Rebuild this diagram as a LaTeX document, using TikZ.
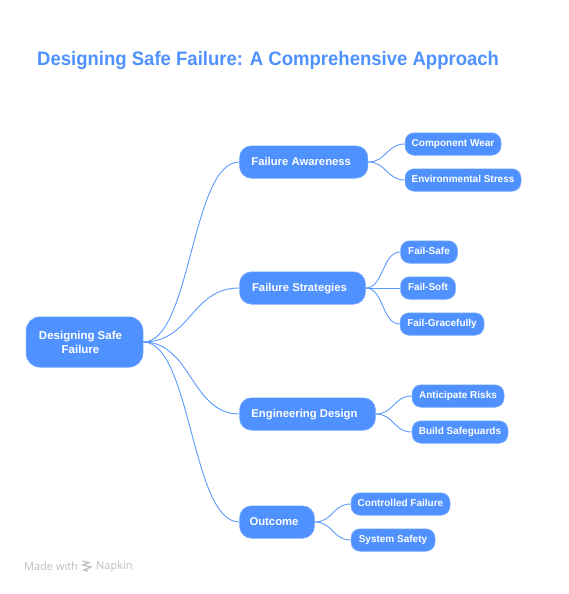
\documentclass[tikz,border=0pt]{standalone}
\usepackage{fontspec}
\setmainfont{Liberation Sans}
\newfontfamily\wmfont{Open Sans}
\newfontfamily\titlefont[FakeStretch=0.95]{Liberation Sans}
\usetikzlibrary{calc}
\definecolor{nodeblue}{HTML}{4F91FF}
\definecolor{edgeblue}{HTML}{5C9AFF}
\definecolor{wmgrey}{HTML}{BDBDBD}
\tikzset{
  box/.style={fill=nodeblue,draw=nodeblue!70!white,line width=0.5pt,text=white,inner sep=0pt,align=center},
  rootbox/.style={box,rounded corners=14pt,minimum width=117pt,minimum height=50.5pt,font=\bfseries\fontsize{11.5}{14}\selectfont},
  midbox/.style={box,rounded corners=12pt,minimum height=32.5pt,text height=9.5pt,text depth=2.5pt,font=\bfseries\fontsize{11.3}{14}\selectfont},
  leafbox/.style={box,rounded corners=9pt,minimum height=22.5pt,text height=9pt,text depth=4pt,font=\bfseries\fontsize{10}{12}\selectfont},
  link/.style={edgeblue,line width=0.9pt},
}
\newcommand{\curvelink}[3]{\draw[link] (#1.east) .. controls +(#3,0) and ($(#2.west)+(-#3,0)$) .. (#2.west);}
\begin{document}
\begin{tikzpicture}[x=1pt,y=-1pt]
\useasboundingbox (0,0) rectangle (569,594);
\node[anchor=west,inner sep=0pt,text=nodeblue,font=\titlefont\bfseries\fontsize{19.5}{24}\selectfont] (title) at (37,61) {Designing Safe Failure: A Comprehensive Approach};

\node[rootbox,minimum width=117pt] (root) at (84.5,342) {Designing Safe\kern8pt\\Failure\kern8pt};

\node[midbox,minimum width=128.5pt] (m1) at (303.7,162) {Failure Awareness\kern5pt};
\node[midbox,minimum width=126pt] (m2) at (302.5,288) {Failure Strategies\kern6pt};
\node[midbox,minimum width=136pt] (m3) at (307.5,414) {Engineering Design\kern6pt};
\node[midbox,minimum width=75pt] (m4) at (277,522) {Outcome\kern6pt};

\node[leafbox,minimum width=96pt] (a1) at (453,144) {Component Wear};
\node[leafbox,minimum width=116pt] (a2) at (463,180) {Environmental Stress};
\node[leafbox,minimum width=57pt] (b1) at (429,252) {Fail-Safe};
\node[leafbox,minimum width=55pt] (b2) at (428,288) {Fail-Soft};
\node[leafbox,minimum width=84pt] (b3) at (442,324) {Fail-Gracefully};
\node[leafbox,minimum width=92pt] (c1) at (458,396) {Anticipate Risks};
\node[leafbox,minimum width=96pt] (c2) at (460,432) {Build Safeguards};
\node[leafbox,minimum width=99pt] (d1) at (400.5,504) {Controlled Failure};
\node[leafbox,minimum width=84pt] (d2) at (393,540) {System Safety};

\curvelink{root}{m1}{48}
\curvelink{root}{m2}{48}
\curvelink{root}{m3}{48}
\curvelink{root}{m4}{48}
\curvelink{m1}{a1}{18}
\curvelink{m1}{a2}{18}
\curvelink{m2}{b1}{18}
\draw[link] (m2.east) -- (b2.west);
\curvelink{m2}{b3}{18}
\curvelink{m3}{c1}{18}
\curvelink{m3}{c2}{18}
\curvelink{m4}{d1}{18}
\curvelink{m4}{d2}{18}

\node[anchor=west,text=wmgrey,font=\wmfont\fontsize{11}{12}\selectfont,inner sep=0pt] (made) at (24,566.5) {Made with};
\node[anchor=west,text=wmgrey,font=\wmfont\fontsize{11}{12}\selectfont,inner sep=0pt] (napkin) at (96,566.5) {Napkin};
\draw[wmgrey,line width=1.2pt] (82.5,561) -- (89,562.5) -- (83,565) -- (91,567) -- (84,570) -- (88,571);
\end{tikzpicture}
\end{document}
